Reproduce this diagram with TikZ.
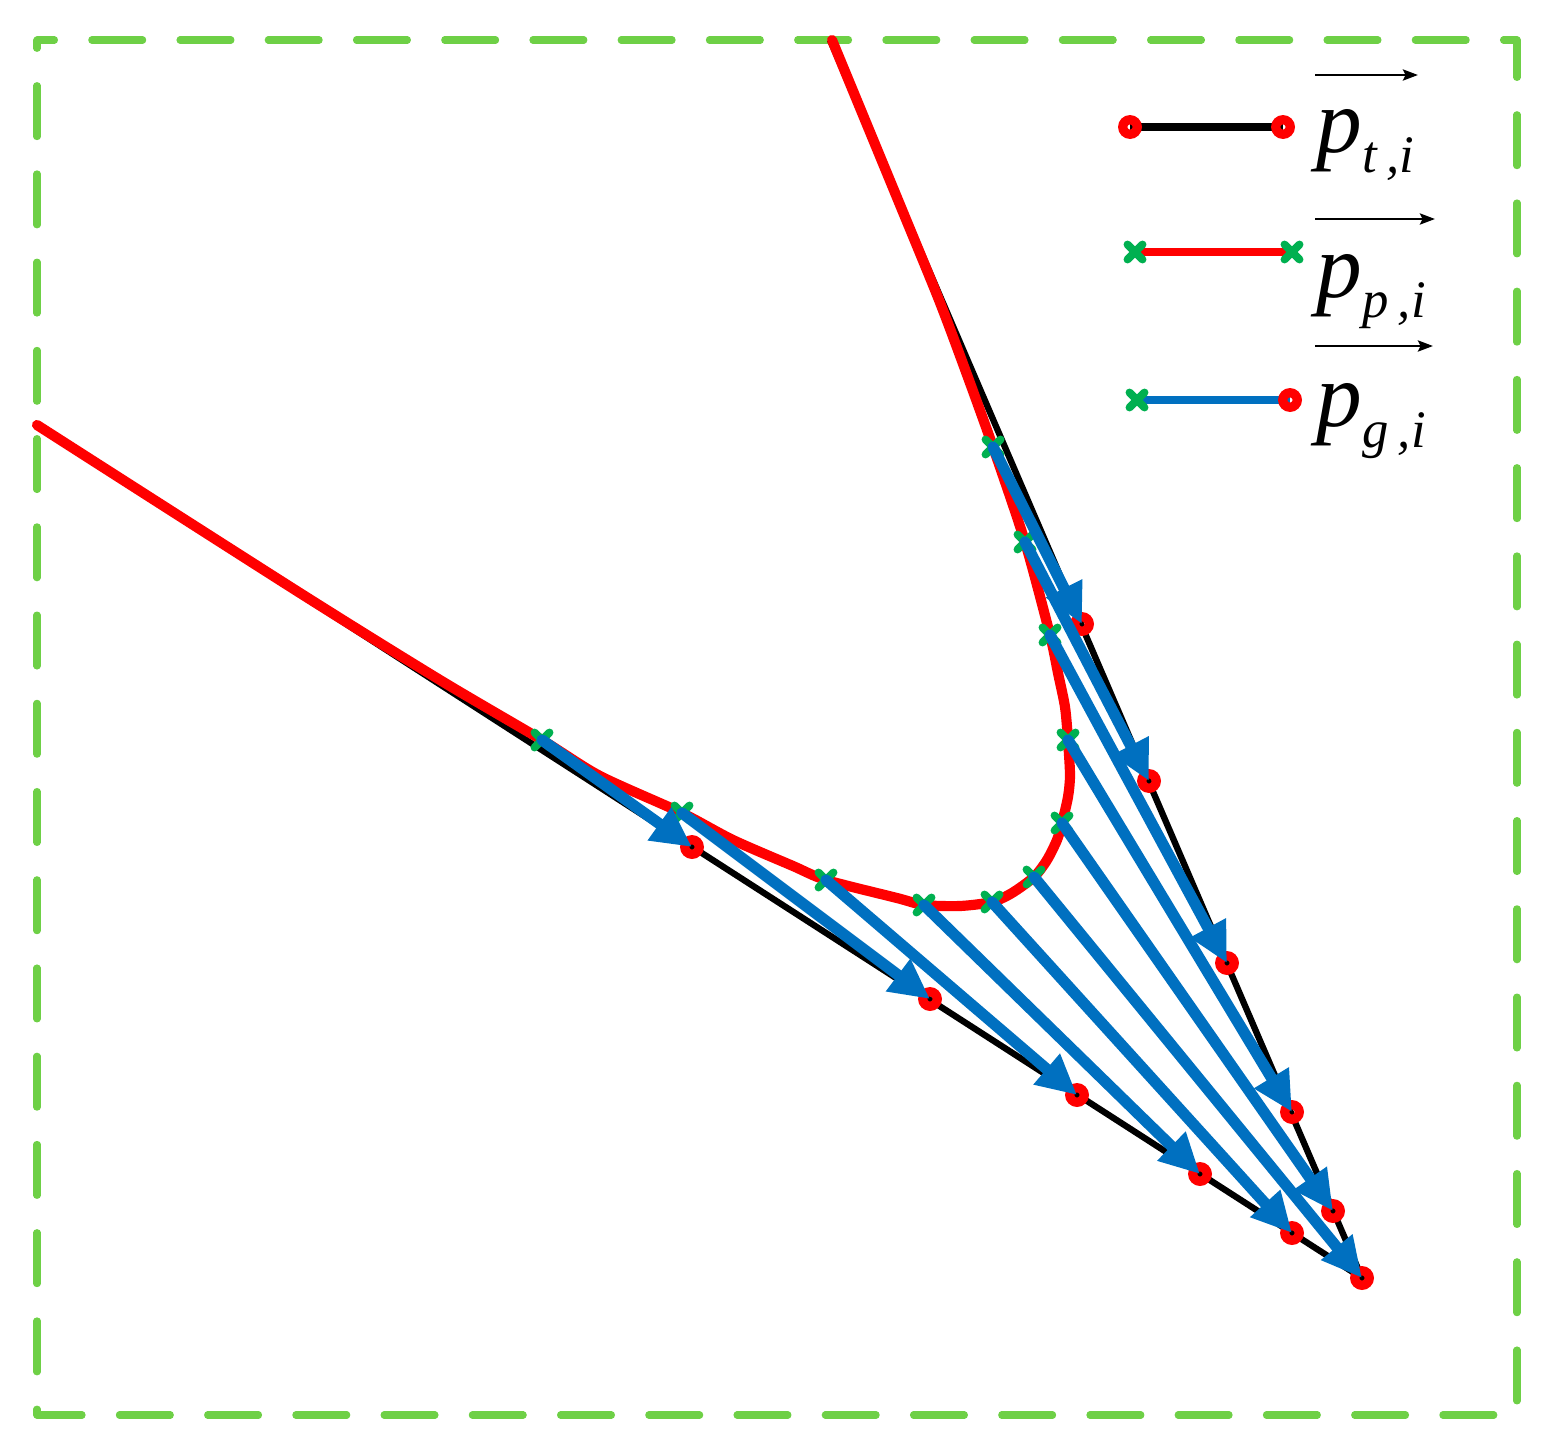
\documentclass[tikz,border=0pt]{standalone}
\usepackage{fontspec}
\setmainfont{Liberation Serif}
\usetikzlibrary{arrows.meta,shapes.misc}
\definecolor{boxgreen}{RGB}{110,208,70}
\definecolor{mkgreen}{RGB}{0,176,80}
\definecolor{arblue}{RGB}{0,112,192}
\begin{document}
\begin{tikzpicture}[x=0.02cm,y=-0.02cm,
  frame/.style={draw=boxgreen, line width=4pt, line cap=round, line join=round,
    dash pattern=on 1.02cm off 0.745cm, dash phase=0.67cm},
  tline/.style={draw=black, line width=3.6pt, line join=round},
  pline/.style={draw=red, line width=5.8pt, line join=round, line cap=round},
  gline/.style={draw=arblue, line width=6.4pt, line cap=round,
    -{Triangle[length=0.8cm,width=0.76cm]}},
  tmark/.style={circle, draw=red, line width=5.3pt, minimum size=0.29cm,
    inner sep=0pt, outer sep=0pt},
  pmark/.style={cross out, draw=mkgreen, line width=4.5pt, line cap=round,
    minimum size=0.3cm, inner sep=0pt, outer sep=0pt},
  legline/.style={line width=4pt},
  lab/.style={anchor=base west, inner sep=0pt, font=\fontsize{52}{56}\selectfont},
  ovarrow/.style={draw=black, line width=1.6pt,
    -{Stealth[length=0.3cm,width=0.22cm,inset=0.05cm]}}
]
\useasboundingbox (0,0) rectangle (1553,1454);
% dashed frame
\draw[frame] (37,40) -- (1517,40) -- (1517,1415) -- (37,1415) -- cycle;

% coordinates
\coordinate (A) at (37,425);
\coordinate (B) at (830,40);
\coordinate (P1) at (692,847);
\coordinate (P2) at (930,999);
\coordinate (P3) at (1077,1095);
\coordinate (P4) at (1200,1174);
\coordinate (P5) at (1292,1233);
\coordinate (P6) at (1362,1278);
\coordinate (P7) at (1333,1211);
\coordinate (P8) at (1292,1112);
\coordinate (P9) at (1227,963);
\coordinate (P10) at (1149,781);
\coordinate (P11) at (1082,624);

% target trajectory
\draw[tline] (A) -- (P6) -- (B);
\foreach \i in {1,...,11}{\node[tmark] (T\i) at (P\i) {};}

% predicted trajectory
\draw[pline] plot[smooth, tension=0.45] coordinates {
  (37,425) (300,593) (440,680) (542,740) (600,776) (682,813) (733,840)
  (793,866) (826,880) (897,898) (924,905) (960,906) (992,902) (1012,893)
  (1034,877) (1047,860) (1057,840) (1062,823) (1068,797) (1070,775)
  (1068,740) (1065,707) (1058,673) (1050,635) (1025,542) (993,447)
  (966,372) (939,300) (898,200) (832,40)};

\node[pmark] (G1) at (542,740) {};
\node[pmark] (G2) at (682,813) {};
\node[pmark] (G3) at (826,880) {};
\node[pmark] (G4) at (924,905) {};
\node[pmark] (G5) at (992,902) {};
\node[pmark] (G6) at (1034,877) {};
\node[pmark] (G7) at (1062,823) {};
\node[pmark] (G8) at (1068,740) {};
\node[pmark] (G9) at (1050,635) {};
\node[pmark] (G10) at (1025,542) {};
\node[pmark] (G11) at (993,447) {};

% gradient arrows
\foreach \i in {1,...,11}{\draw[gline] (G\i.center) -- (T\i.center);}

% legend
\coordinate (L1a) at (1130,127);
\coordinate (L1b) at (1283,127);
\coordinate (L2a) at (1135,252);
\coordinate (L2b) at (1292,252);
\coordinate (L3a) at (1137,400);
\coordinate (L3b) at (1290,400);
\draw[legline, black] (L1a) -- (L1b);
\node[tmark] (K1a) at (L1a) {};
\node[tmark] (K1b) at (L1b) {};
\draw[legline, red] (L2a) -- (L2b);
\node[pmark] (K2a) at (L2a) {};
\node[pmark] (K2b) at (L2b) {};
\draw[legline, arblue] (L3a) -- (L3b);
\node[pmark] (K3a) at (L3a) {};
\node[tmark] (K3b) at (L3b) {};

\node[lab] (lab1) at (1316,152) {\textit{p}\raisebox{-0.42cm}{\fontsize{30}{32}\selectfont\textit{t\hspace{0.18em},i}}};
\node[lab] (lab2) at (1316,297) {\textit{p}\raisebox{-0.42cm}{\fontsize{30}{32}\selectfont\textit{p\hspace{0.18em},i}}};
\node[lab] (lab3) at (1316,426) {\textit{p}\raisebox{-0.42cm}{\fontsize{30}{32}\selectfont\textit{g\hspace{0.18em},i}}};

\coordinate (V1a) at (1315,75);  \coordinate (V1b) at (1418,75);
\coordinate (V2a) at (1315,219); \coordinate (V2b) at (1435,219);
\coordinate (V3a) at (1315,346); \coordinate (V3b) at (1433,346);
\draw[ovarrow] (V1a) -- (V1b);
\draw[ovarrow] (V2a) -- (V2b);
\draw[ovarrow] (V3a) -- (V3b);
\end{tikzpicture}
\end{document}
